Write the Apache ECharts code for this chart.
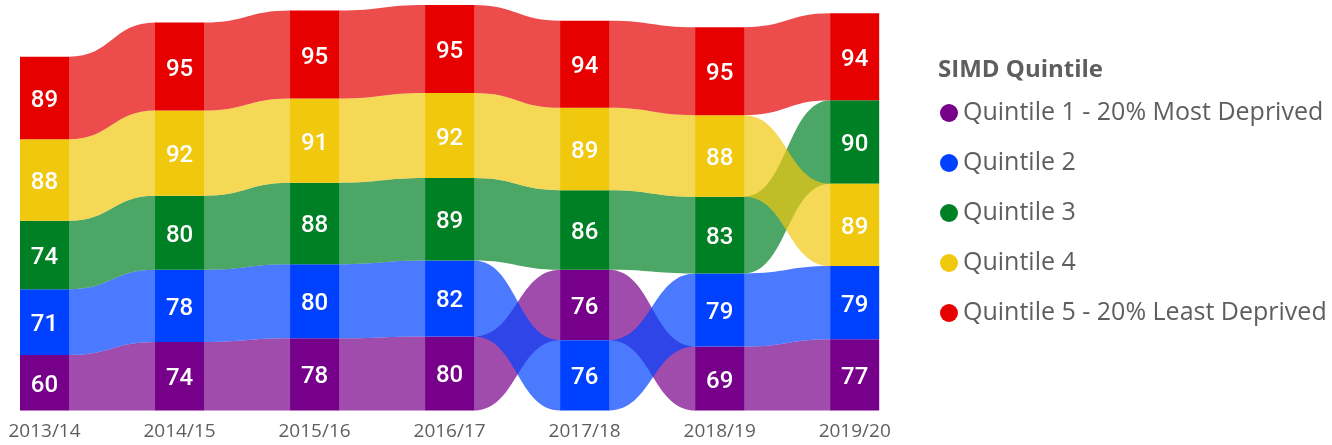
<!DOCTYPE html>
<html>
<head>
<meta charset="utf-8">
<script src="https://cdn.jsdelivr.net/npm/echarts@6/dist/echarts.min.js"></script>
<style>
  html, body { margin: 0; padding: 0; background: #fff; }
  #chart { width: 1332px; height: 445px; }
</style>
</head>
<body>
<div id="chart"></div>
<script>
// categories and series
const years = ['2013/14', '2014/15', '2015/16', '2016/17', '2017/18', '2018/19', '2019/20'];
const quintiles = [
    'Quintile 1 - 20% Most Deprived',
    'Quintile 2',
    'Quintile 3',
    'Quintile 4',
    'Quintile 5 - 20% Least Deprived'
];
const q1 = [60, 74, 78, 80, 76, 69, 77];
const q2 = [71, 78, 80, 82, 76, 79, 79];
const q3 = [74, 80, 88, 89, 86, 83, 90];
const q4 = [88, 92, 91, 92, 89, 88, 89];
const q5 = [89, 95, 95, 95, 94, 95, 94];

const values = [q1, q2, q3, q4, q5];
const colors = ['#76008A', '#0041FF', '#008024', '#F0C80E', '#E60000'];
const barWidth = 49;
const textColor = '#605E5C';

// ribbon chart: in each year the smallest value sits at the bottom
const baseOf = (s, k) => {
    let b = 0;
    for (let t = 0; t < values.length; t++) {
        if (t === s) continue;
        const v = values[t][k], w = values[s][k];
        if (v < w || (v === w && t > s)) b += v;
    }
    return b;
};

let totalMax = 0;
for (let k = 0; k < years.length; k++) {
    let sum = 0;
    values.forEach(function (arr) { sum += arr[k]; });
    totalMax = Math.max(totalMax, sum);
}

const makeRender = (s) => function (params, api) {
    const i = params.dataIndex;
    const half = barWidth / 2;
    const seg = (k) => {
        const b = baseOf(s, k);
        const p0 = api.coord([k, b]);
        const p1 = api.coord([k, b + values[s][k]]);
        return { x: p0[0], yb: p0[1], yt: p1[1] };
    };
    const a = seg(i);
    const children = [];
    if (i < years.length - 1) {
        const n = seg(i + 1);
        const x0 = a.x + half - 0.5, x1 = n.x - half + 0.5, xm = (x0 + x1) / 2;
        const d = 'M' + x0 + ',' + a.yt +
            ' C' + xm + ',' + a.yt + ' ' + xm + ',' + n.yt + ' ' + x1 + ',' + n.yt +
            ' L' + x1 + ',' + n.yb +
            ' C' + xm + ',' + n.yb + ' ' + xm + ',' + a.yb + ' ' + x0 + ',' + a.yb + ' Z';
        children.push({
            type: 'path',
            z2: 1,
            shape: { pathData: d },
            style: { fill: colors[s], opacity: 0.7 }
        });
    }
    children.push({
        type: 'rect',
        z2: 10,
        shape: { x: a.x - half, y: a.yt, width: barWidth, height: a.yb - a.yt },
        style: { fill: colors[s] }
    });
    children.push({
        type: 'text',
        z2: 11,
        style: {
            text: String(values[s][i]),
            x: a.x,
            y: (a.yt + a.yb) / 2 + 3,
            align: 'center',
            verticalAlign: 'middle',
            fill: '#fff',
            font: '500 24px Roboto'
        }
    });
    return { type: 'group', children: children };
};

const chart = echarts.init(document.getElementById('chart'));

const series = quintiles.map(function (name, s) {
    return {
        name: name,
        type: 'custom',
        clip: false,
        itemStyle: { color: colors[s] },
        renderItem: makeRender(s),
        data: values[s].map(function (v, k) { return [k, v]; })
    };
});

const option = {
    animation: false,
    title: {
        text: 'SIMD Quintile',
        left: 938,
        top: 58,
        padding: 0,
        textStyle: { fontFamily: 'Open Sans', fontWeight: 'bold', fontSize: 24, color: textColor }
    },
    legend: {
        orient: 'vertical',
        left: 940,
        top: 98,
        padding: 0,
        icon: 'circle',
        itemWidth: 18,
        itemHeight: 18,
        itemGap: 20,
        data: quintiles,
        textStyle: { fontFamily: 'Open Sans', fontSize: 25, color: textColor, lineHeight: 30 }
    },
    grid: { left: 44.5, right: 477.3, top: 5, bottom: 34.5, outerBoundsMode: 'none' },
    xAxis: {
        type: 'category',
        data: years,
        boundaryGap: false,
        axisLine: { show: false },
        axisTick: { show: false },
        splitLine: { show: false },
        axisLabel: { fontFamily: 'Open Sans', fontSize: 19, color: textColor, margin: 12 }
    },
    yAxis: { type: 'value', min: 0, max: totalMax, show: false },
    series: series
};

chart.setOption(option);
</script>
</body>
</html>
